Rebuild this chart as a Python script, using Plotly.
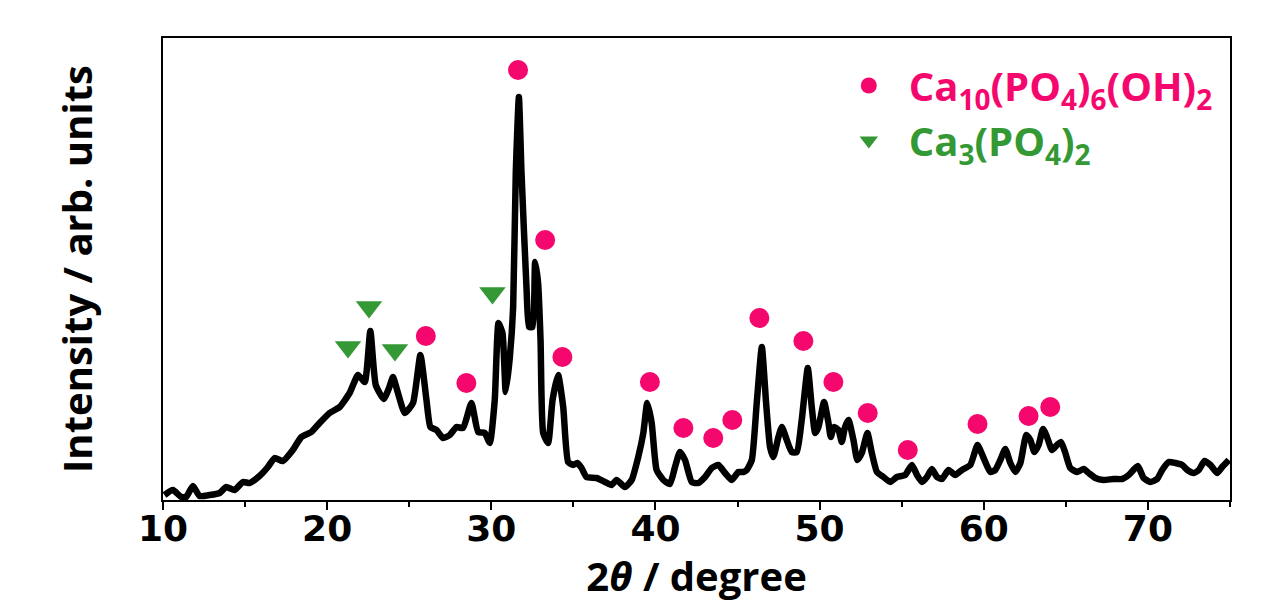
import plotly.graph_objects as go

# ---- data ----
two_theta = [10.09, 10.60, 11.11, 11.41, 11.82, 12.23, 12.84, 13.45, 13.85, 14.36, 14.87, 15.27,
             15.88, 16.39, 16.80, 17.30, 17.91, 18.43, 19.04, 19.54, 20.15, 20.76, 21.37, 21.88,
             22.29, 22.63, 22.96, 23.45, 23.77, 24.01, 24.26, 24.73, 25.23, 25.68, 26.05, 26.29,
             26.66, 27.06, 27.47, 27.88, 28.28, 28.79, 29.20, 29.60, 29.91, 30.21, 30.44, 30.68,
             30.88, 31.13, 31.33, 31.49, 31.68, 31.84, 32.15, 32.30, 32.51, 32.67, 32.85, 33.00,
             33.16, 33.46, 33.73, 34.07, 34.38, 34.68, 34.99, 35.23, 35.50, 35.80, 36.41, 36.92,
             37.33, 37.63, 38.14, 38.55, 38.95, 39.26, 39.50, 39.77, 40.07, 40.48, 40.88, 41.19,
             41.49, 41.80, 42.21, 42.61, 43.02, 43.43, 43.83, 44.24, 44.65, 45.05, 45.35, 45.56,
             45.87, 46.17, 46.48, 46.74, 46.98, 47.18, 47.49, 47.70, 48.00, 48.30, 48.61, 48.91,
             49.28, 49.52, 49.73, 49.93, 50.27, 50.54, 50.68, 50.88, 51.15, 51.35, 51.55, 51.76,
             52.06, 52.30, 52.57, 52.91, 53.18, 53.49, 53.89, 54.30, 54.71, 55.21, 55.62, 55.93,
             56.23, 56.54, 56.84, 57.15, 57.45, 57.85, 58.26, 58.67, 59.18, 59.62, 59.99, 60.40,
             60.70, 61.01, 61.31, 61.62, 61.92, 62.23, 62.59, 62.84, 63.08, 63.34, 63.61, 63.85,
             64.16, 64.46, 64.71, 64.97, 65.27, 65.68, 66.09, 66.39, 66.80, 67.30, 67.91, 68.43,
             68.83, 69.38, 69.74, 70.15, 70.56, 70.87, 71.27, 71.68, 72.09, 72.40, 72.79, 73.10,
             73.45, 73.81, 74.22, 74.52, 74.93]
intensity = [5, 10, 3, 3, 14, 4, 5, 7, 13, 10, 18, 17,
             24, 33, 42, 39, 50, 63, 68, 77, 87, 93, 107, 125,
             118, 169, 115, 101, 112, 123, 110, 87, 97, 145, 100, 73,
             70, 62, 65, 73, 72, 97, 68, 67, 57, 100, 177, 167,
             108, 143, 193, 327, 403, 327, 210, 173, 173, 238, 217, 160,
             67, 57, 100, 125, 93, 38, 35, 37, 32, 23, 22, 18,
             15, 20, 13, 20, 43, 67, 97, 77, 30, 20, 16, 33,
             48, 40, 18, 17, 23, 32, 35, 27, 20, 28, 28, 30,
             40, 97, 153, 97, 53, 43, 63, 73, 60, 48, 48, 80,
             132, 93, 67, 73, 98, 77, 63, 73, 70, 58, 73, 80,
             60, 40, 47, 67, 47, 28, 23, 18, 23, 25, 35, 25,
             18, 23, 31, 23, 21, 30, 25, 30, 35, 55, 42, 28,
             30, 40, 51, 37, 28, 37, 65, 60, 48, 55, 71, 63,
             50, 55, 58, 47, 32, 28, 31, 27, 22, 20, 21, 21,
             25, 34, 22, 18, 21, 30, 38, 37, 35, 30, 27, 30,
             39, 35, 27, 33, 40]

# Ca10(PO4)6(OH)2 reflections (marker positions)
hap_x = [26.01, 28.48, 31.63, 33.28, 34.33, 39.66, 41.70, 43.52, 44.68, 46.33, 49.01,
         50.84, 52.93, 55.37, 59.62, 62.73, 64.05]
hap_y = [164, 117, 430, 260, 143, 118, 72, 62, 80, 182, 159,
         118, 87, 50, 76, 84, 93]

# Ca3(PO4)2 reflections (marker positions)
tcp_x = [21.27, 22.55, 24.13, 30.07]
tcp_y = [153, 193, 150, 207]

x_ticks = [10, 20, 30, 40, 50, 60, 70]

PINK = "#F5086E"
GREEN = "#349934"
TXT_FONT = "Open Sans, Noto Sans, sans-serif"

fig = go.Figure()
fig.add_trace(go.Scatter(
    x=two_theta, y=intensity, mode="lines",
    line=dict(color="black", width=6.5, shape="spline", smoothing=0.5),
    showlegend=False, hoverinfo="skip"))
fig.add_trace(go.Scatter(
    x=hap_x, y=hap_y, mode="markers",
    marker=dict(symbol="circle", size=20, color=PINK, line=dict(width=0)),
    name=f'<span style="color:{PINK}">Ca<sub>10</sub>(PO<sub>4</sub>)<sub>6</sub>(OH)<sub>2</sub></span>'))
fig.add_trace(go.Scatter(
    x=tcp_x, y=tcp_y, mode="markers",
    marker=dict(symbol="triangle-down", size=23, color=GREEN, line=dict(width=0)),
    name=f'<span style="color:{GREEN}">Ca<sub>3</sub>(PO<sub>4</sub>)<sub>2</sub></span>'))

fig.update_layout(
    width=1279, height=595,
    margin=dict(l=155, r=57, t=30, b=103),
    paper_bgcolor="white", plot_bgcolor="white",
    showlegend=True,
    legend=dict(
        x=0.624, y=0.9675, xanchor="left", yanchor="top",
        bgcolor="rgba(0,0,0,0)", borderwidth=0,
        font=dict(family=TXT_FONT, size=40, color="black", weight="bold"),
        tracegroupgap=0, itemsizing="trace", itemwidth=70),
    xaxis=dict(
        range=[10, 75], tickvals=x_ticks, ticktext=[str(t) for t in x_ticks],
        ticks="outside", ticklen=8, tickwidth=2, tickcolor="black",
        minor=dict(dtick=5, tick0=10, ticks="outside", ticklen=5, tickwidth=2, tickcolor="black"),
        showline=True, linewidth=2, linecolor="black", mirror=True,
        showgrid=False, zeroline=False, automargin=False,
        ticklabelstandoff=-12,
        tickfont=dict(family="DejaVu Sans", size=36, color="black", weight="bold"),
        title=dict(text="2<i>θ</i> / degree",
                   font=dict(family=TXT_FONT, size=40, color="black", weight="bold"),
                   standoff=0)),
    yaxis=dict(
        range=[0, 462], showticklabels=False, ticks="",
        showline=True, linewidth=2, linecolor="black", mirror=True,
        showgrid=False, zeroline=False, automargin=False,
        title=dict(text="Intensity / arb. units",
                   font=dict(family=TXT_FONT, size=40, color="black", weight="bold"),
                   standoff=56)),
)

fig.write_html("out.html")
